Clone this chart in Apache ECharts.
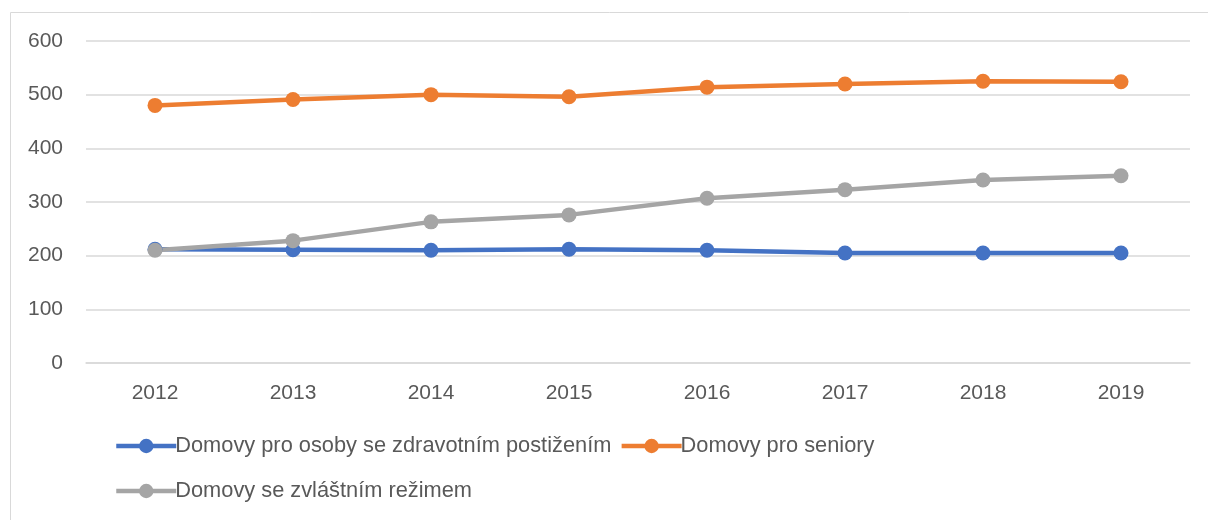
<!DOCTYPE html>
<html>
<head>
<meta charset="utf-8">
<script src="https://cdn.jsdelivr.net/npm/echarts@6/dist/echarts.min.js"></script>
<style>
  html, body { margin: 0; padding: 0; background: #fff; }
  #chart { width: 1208px; height: 520px; }
</style>
</head>
<body>
<div id="chart"></div>
<script>
// data
var years = ['2012', '2013', '2014', '2015', '2016', '2017', '2018', '2019'];
var zdravotni = [212, 211, 210, 212, 210, 205, 205, 205];
var seniori = [480, 491, 500, 496, 514, 520, 525, 524];
var rezim = [210, 228, 263, 276, 307, 323, 341, 349];
var names = [
    'Domovy pro osoby se zdravotním postižením',
    'Domovy pro seniory',
    'Domovy se zvláštním režimem'
];
var yTicks = [0, 100, 200, 300, 400, 500, 600];

(function () {
    let myChart = echarts.init(document.getElementById('chart'));
    var font = 'Liberation Sans';
    var txt = '#595959';

    function line(name, data, color) {
        return {
            name: name,
            type: 'line',
            data: data,
            symbol: 'circle',
            symbolSize: 15,
            lineStyle: { width: 4.5, color: color },
            itemStyle: { color: color },
            emphasis: { disabled: true }
        };
    }

    function legend(data, top) {
        return {
            data: data,
            left: 114,
            top: top,
            padding: 0,
            itemWidth: 60,
            itemHeight: 18,
            itemGap: 8,
            lineStyle: { width: 4.5 },
            textStyle: { color: txt, fontFamily: font, fontSize: 21.8, padding: [0, 0, 0, -6] }
        };
    }

    let option = {
        animation: false,
        color: ['#4472C4', '#ED7D31', '#A5A5A5'],
        graphic: [{
            type: 'rect',
            shape: { x: 10.5, y: 12.5, width: 1300, height: 600 },
            style: { fill: 'none', stroke: '#d9d9d9', lineWidth: 1 },
            silent: true
        }],
        grid: { left: 86, right: 18, top: 41, bottom: 157 },
        legend: [legend([names[0], names[1]], 435), legend([names[2]], 480)],
        xAxis: {
            type: 'category',
            data: years,
            axisTick: { show: false },
            axisLine: { lineStyle: { color: '#d9d9d9', width: 1.5 } },
            axisLabel: { color: txt, fontFamily: font, fontSize: 21, margin: 20 }
        },
        yAxis: {
            type: 'value',
            min: yTicks[0],
            max: yTicks[yTicks.length - 1],
            interval: 100,
            axisTick: { show: false },
            axisLine: { show: false },
            axisLabel: { color: txt, fontFamily: font, fontSize: 21, margin: 23 },
            splitLine: { lineStyle: { color: '#d9d9d9', width: 1.5 } }
        },
        series: [
            line(names[0], zdravotni, '#4472C4'),
            line(names[1], seniori, '#ED7D31'),
            line(names[2], rezim, '#A5A5A5')
        ]
    };
    myChart.setOption(option);
})();
</script>
</body>
</html>
